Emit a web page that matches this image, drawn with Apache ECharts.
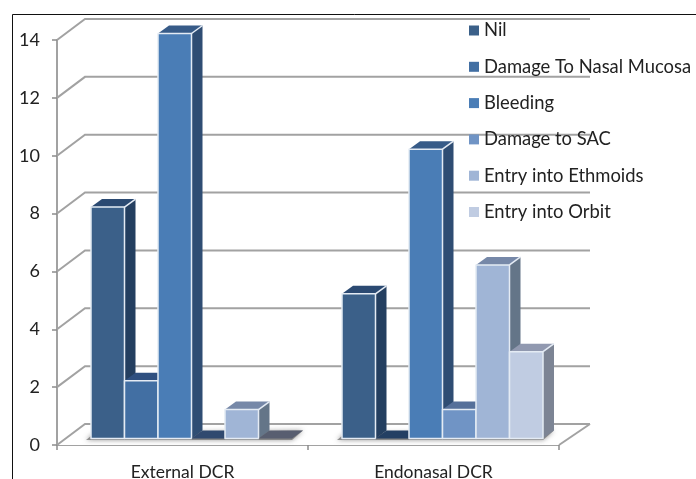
<!DOCTYPE html>
<html>
<head>
<meta charset="utf-8">
<style>html,body{margin:0;padding:0;background:#fff}#chart{width:696px;height:479px}</style>
<script src="https://cdn.jsdelivr.net/npm/echarts@6/dist/echarts.min.js"></script>
</head>
<body>
<div id="chart"></div>
<script>
const categories = ['External DCR', 'Endonasal DCR'];
const nil = [8, 5];
const nasalMucosa = [2, 0];
const bleeding = [14, 10];
const sacDamage = [0, 1];
const ethmoids = [1, 6];
const orbit = [0, 3];
const yTicks = [0, 2, 4, 6, 8, 10, 12, 14];

const seriesDefs = [
  { name: 'Nil', values: nil, front: '#3b6089', top: '#2b4a72', side: '#243f60', flat: '#22406a' },
  { name: 'Damage To Nasal Mucosa', values: nasalMucosa, front: '#426fa3', top: '#2f5080', side: '#2a4a70', flat: '#233f63' },
  { name: 'Bleeding', values: bleeding, front: '#4a7db6', top: '#375b88', side: '#2f4d73', flat: '#2f4d73' },
  { name: 'Damage to SAC', values: sacDamage, front: '#7094c5', top: '#56709a', side: '#4c6488', flat: '#30496f' },
  { name: 'Entry into Ethmoids', values: ethmoids, front: '#a0b5d6', top: '#7688a8', side: '#647588', flat: '#647588' },
  { name: 'Entry into Orbit', values: orbit, front: '#c0cce2', top: '#9199b0', side: '#7c8494', flat: '#585e70' }
];

// Pseudo-3D geometry, in pixels
const WALL_DX_LEFT = 28, WALL_DX_RIGHT = 31, WALL_DY = 21;
const BAR_DX = 11, BAR_DY = 8, BAR_LIFT = 6.5, SLOT = 33.5, GROUP_SHIFT = 9;
const GRID_COLOR = '#a2a2a2';
const TEXT_COLOR = '#222222';

function poly(points, style, z2) {
  return { type: 'polygon', shape: { points: points }, style: style, z2: z2 || 0, silent: true };
}

// Back wall gridlines with their slanted returns to the value axis
function renderWall(params, api) {
  const cs = params.coordSys;
  const y = api.coord([0, api.value(1)])[1];
  const left = cs.x, right = cs.x + cs.width;
  const isFloor = api.value(1) === 0;
  const children = [];
  if (isFloor) {
    children.push(poly(
      [[left, y], [right, y], [right + WALL_DX_RIGHT, y - WALL_DY], [left + WALL_DX_LEFT, y - WALL_DY]],
      { fill: '#ffffff' }
    ));
    children.push({
      type: 'line', silent: true,
      shape: { x1: right, y1: y, x2: right + WALL_DX_RIGHT, y2: y - WALL_DY },
      style: { stroke: GRID_COLOR, lineWidth: 2 }
    });
  }
  children.push({
    type: 'polyline', silent: true,
    shape: { points: [[left, y], [left + WALL_DX_LEFT, y - WALL_DY], [right + WALL_DX_RIGHT, y - WALL_DY]] },
    style: { fill: 'none', stroke: GRID_COLOR, lineWidth: 2 }
  });
  return { type: 'group', children: children };
}

// Soft shadow lying on the floor under each cluster
function renderShadow(params, api) {
  const c = api.coord([api.value(0), 0]);
  const x0 = c[0] + GROUP_SHIFT - 3 * SLOT;
  const x1 = x0 + 6 * SLOT;
  const base = c[1] - BAR_LIFT;
  return poly(
    [[x0 - 5, base + 1.5], [x1, base + 1.5], [x1 + BAR_DX, base - BAR_DY], [x0 + 3, base - BAR_DY + 3]],
    { fill: 'rgba(110,110,110,0.7)', shadowBlur: 5, shadowColor: 'rgba(70,70,70,0.8)' }
  );
}

function barRenderer(seriesIndex) {
  const def = seriesDefs[seriesIndex];
  return function (params, api) {
    const cat = api.value(0), val = api.value(1);
    const c0 = api.coord([cat, 0]);
    const topPx = api.coord([cat, val])[1] - BAR_LIFT;
    const base = c0[1] - BAR_LIFT;
    const x0 = c0[0] + GROUP_SHIFT + (seriesIndex - 3) * SLOT;
    const x1 = x0 + SLOT;
    const edge = { stroke: '#e4ebf4', lineWidth: 1.5, lineJoin: 'round' };
    const children = [
      poly([[x1, base], [x1 + BAR_DX, base - BAR_DY], [x1 + BAR_DX, topPx - BAR_DY], [x1, topPx]],
        { fill: def.side }, 1),
      poly([[x0, topPx], [x1, topPx], [x1 + BAR_DX, topPx - BAR_DY], [x0 + BAR_DX, topPx - BAR_DY]],
        { fill: val > 0 ? def.top : def.flat }, 2)
    ];
    if (val > 0) {
      children.push({
        type: 'rect', silent: true, z2: 3,
        shape: { x: x0, y: topPx, width: SLOT, height: base - topPx },
        style: Object.assign({ fill: def.front }, edge)
      });
      children.push({
        type: 'line', silent: true, z2: 4,
        shape: { x1: x1, y1: topPx, x2: x1 + BAR_DX, y2: topPx - BAR_DY },
        style: edge
      });
    }
    return { type: 'group', children: children };
  };
}

const chart = echarts.init(document.getElementById('chart'), null, { renderer: 'canvas' });

chart.setOption({
  animation: false,
  backgroundColor: '#ffffff',
  textStyle: { fontFamily: 'Lato' },
  grid: { left: 57, right: 137, top: 40, bottom: 34, outerBoundsMode: 'none' },
  xAxis: {
    type: 'category',
    data: categories,
    axisLine: { lineStyle: { color: GRID_COLOR, width: 2 } },
    axisTick: { show: true, alignWithLabel: false, length: 5, lineStyle: { color: '#8c8c8c', width: 1.5 } },
    axisLabel: { color: TEXT_COLOR, fontSize: 17.5, fontFamily: 'Lato', margin: 18 },
    splitLine: { show: false }
  },
  yAxis: {
    type: 'value',
    min: 0,
    max: 14,
    interval: 2,
    axisLine: { show: true, lineStyle: { color: GRID_COLOR, width: 2 } },
    axisTick: { show: true, length: 5, lineStyle: { color: '#8c8c8c', width: 1.5 } },
    axisLabel: { color: TEXT_COLOR, fontSize: 18, fontFamily: 'Lato', margin: 17, padding: [2, 0, 0, 0] },
    splitLine: { show: false }
  },
  legend: {
    orient: 'vertical',
    left: 464,
    top: 15,
    itemWidth: 10,
    itemHeight: 10,
    itemGap: 15.3,
    icon: 'rect',
    data: seriesDefs.map(d => d.name),
    textStyle: { color: TEXT_COLOR, fontSize: 18.4, fontFamily: 'Lato', lineHeight: 21 }
  },
  graphic: [
    {
      type: 'polyline',
      silent: true,
      z: 100,
      shape: { points: [[12.5, 479], [12.5, 14.5], [696, 14.5]] },
      style: { fill: 'none', stroke: '#111111', lineWidth: 1 }
    }
  ],
  series: [
    {
      type: 'custom',
      name: 'wall',
      z: 1,
      renderItem: renderWall,
      data: yTicks.map(v => [0, v]),
      encode: { x: 0, y: 1 },
      silent: true
    },
    {
      type: 'custom',
      name: 'shadow',
      z: 2,
      renderItem: renderShadow,
      data: categories.map((_, i) => [i, 0]),
      encode: { x: 0, y: 1 },
      silent: true
    }
  ].concat(seriesDefs.map((def, i) => ({
    type: 'custom',
    name: def.name,
    z: 3 + i,
    itemStyle: { color: def.front },
    renderItem: barRenderer(i),
    data: def.values.map((v, c) => [c, v]),
    encode: { x: 0, y: 1 }
  })))
});
</script>
</body>
</html>
